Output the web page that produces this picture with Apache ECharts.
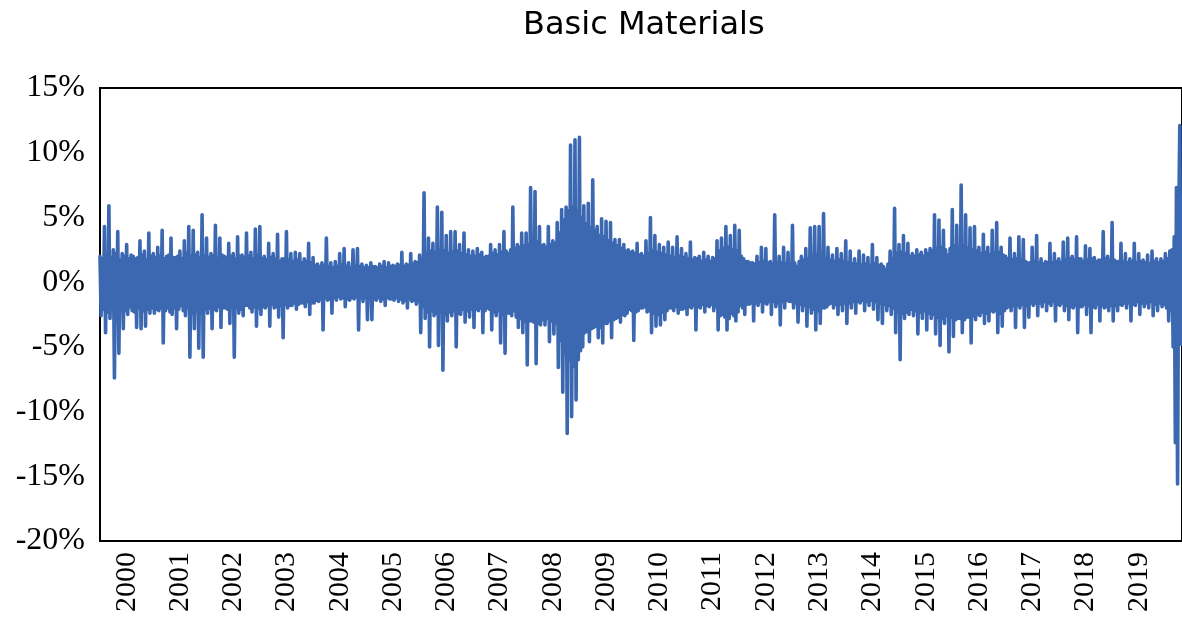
<!DOCTYPE html>
<html>
<head>
<meta charset="utf-8">
<title>Basic Materials</title>
<script src="https://cdn.jsdelivr.net/npm/echarts@6.0.0/dist/echarts.min.js"></script>
<style>
    html, body { margin: 0; padding: 0; background: #fff; }
    #chart { width: 1182px; height: 618px; }
</style>
</head>
<body>
<div id="chart"></div>
<script>
// daily returns (%): per year, groups of swing high, swing low, band top, band bottom
const r2000 = [2.0,-2.6,1.8,-2.1, 4.3,-3.9,2.1,-2.3, 5.9,-2.8,1.9,-2.0, 2.5,-7.4,2.2,-2.4, 3.9,-5.5,1.7,-2.1, 2.2,-3.6,2.0,-2.2, 2.9,-2.5,1.8,-1.9, 2.1,-2.2,2.0,-2.3, 1.8,-3.5,1.9,-2.0, 3.2,-3.6,2.1,-2.2, 2.4,-3.4,1.7,-2.1, 3.8,-2.4,2.0,-2.0];
const r2001 = [2.2,-2.4,1.9,-2.1, 2.7,-2.2,2.0,-2.0, 4.0,-4.7,1.8,-2.2, 2.0,-2.0,2.1,-2.3, 3.4,-2.5,1.9,-2.0, 1.9,-3.6,2.0,-2.1, 2.4,-1.8,1.8,-2.2, 3.2,-2.6,2.2,-2.0, 4.3,-5.8,2.0,-2.4, 4.0,-3.6,2.1,-2.2, 2.3,-5.1,1.9,-2.3, 5.2,-5.8,2.0,-2.1];
const r2002 = [3.4,-2.4,1.9,-2.0, 2.2,-3.6,2.0,-2.1, 4.4,-2.2,1.8,-1.9, 3.4,-3.5,2.1,-2.0, 2.0,-2.0,1.9,-2.1, 3.0,-3.2,2.0,-1.9, 2.2,-5.8,1.8,-2.0, 3.5,-2.4,2.0,-2.1, 2.1,-2.6,1.9,-1.8, 3.8,-1.8,2.0,-2.0, 2.3,-2.3,1.8,-1.9, 4.1,-3.4,2.0,-2.0];
const r2003 = [4.3,-2.5,1.8,-1.9, 2.0,-2.0,1.7,-1.8, 3.0,-3.4,1.9,-1.7, 2.2,-2.0,1.8,-1.9, 3.7,-2.7,1.6,-1.8, 1.8,-4.3,1.8,-1.7, 3.9,-2.0,1.7,-1.8, 2.2,-1.8,1.6,-1.6, 2.3,-2.1,1.7,-1.7, 2.2,-1.6,1.5,-1.6, 1.8,-1.9,1.6,-1.5, 3.0,-2.5,1.5,-1.6];
const r2004 = [1.9,-1.6,1.3,-1.4, 1.4,-1.5,1.2,-1.3, 1.5,-3.7,1.3,-1.2, 3.4,-1.4,1.2,-1.3, 1.5,-2.4,1.1,-1.2, 1.6,-1.4,1.2,-1.1, 2.2,-1.3,1.3,-1.2, 2.6,-1.9,1.2,-1.3, 1.5,-1.4,1.1,-1.2, 2.5,-1.3,1.2,-1.1, 2.6,-3.7,1.2,-1.2, 1.4,-1.5,1.1,-1.2];
const r2005 = [1.3,-2.9,1.1,-1.2, 1.5,-2.9,1.2,-1.3, 1.2,-1.4,1.1,-1.2, 1.4,-1.5,1.2,-1.3, 1.6,-1.8,1.1,-1.2, 1.5,-1.3,1.2,-1.3, 1.3,-1.4,1.2,-1.2, 1.4,-1.5,1.3,-1.3, 2.3,-1.6,1.2,-1.4, 1.4,-2.0,1.3,-1.3, 2.2,-1.5,1.4,-1.4, 1.6,-1.7,1.5,-1.5];
const r2006 = [2.1,-3.9,1.8,-1.9, 6.9,-2.8,2.2,-2.3, 3.4,-5.0,2.4,-2.2, 3.0,-2.6,2.3,-2.4, 5.8,-4.9,2.5,-2.3, 5.4,-6.8,2.4,-2.5, 3.6,-3.0,2.2,-2.3, 3.9,-2.6,2.3,-2.2, 3.9,-5.0,2.4,-2.4, 2.9,-2.5,2.2,-2.1, 3.8,-3.1,2.1,-2.2, 2.5,-2.7,2.0,-2.1];
const r2007 = [2.4,-3.5,2.0,-2.1, 2.6,-2.2,2.1,-2.0, 2.3,-3.9,1.9,-2.2, 2.0,-2.0,2.0,-2.1, 2.9,-3.7,2.2,-2.3, 2.5,-2.6,2.1,-2.2, 2.9,-4.7,2.3,-2.5, 3.9,-5.5,2.4,-2.4, 2.2,-2.4,2.5,-2.6, 5.8,-2.2,2.6,-2.7, 2.9,-3.5,2.7,-2.8, 3.8,-3.9,2.8,-3.0];
const r2008 = [3.8,-6.4,2.9,-3.0, 7.3,-3.0,3.0,-3.1, 7.0,-6.3,3.1,-3.2, 4.3,-3.3,2.8,-2.9, 2.9,-3.3,2.7,-2.8, 4.3,-4.6,2.9,-3.0, 3.2,-4.0,3.0,-3.2, 4.6,-6.6,3.8,-4.5, 5.6,-8.5,4.8,-5.5, 5.8,-11.7,5.5,-6.0, 10.6,-10.4,5.8,-6.5, 11.0,-9.1,5.5,-6.0];
const r2009 = [11.2,-5.3,5.0,-5.0, 5.9,-3.9,4.5,-3.8, 6.1,-4.6,4.2,-3.6, 7.9,-3.5,4.0,-3.4, 4.3,-4.3,3.6,-3.5, 4.9,-4.7,3.5,-3.2, 4.7,-3.2,3.2,-3.0, 4.6,-4.3,3.0,-2.9, 3.3,-2.8,2.8,-2.7, 3.3,-3.1,2.6,-2.5, 2.9,-2.6,2.4,-2.4, 2.5,-2.1,2.3,-2.2];
const r2010 = [2.4,-4.5,2.2,-2.3, 3.0,-2.2,2.1,-2.0, 2.2,-2.0,2.0,-1.9, 3.2,-2.3,2.2,-2.2, 5.0,-3.9,2.4,-2.4, 3.6,-3.4,2.3,-2.5, 2.9,-3.3,2.2,-2.3, 2.7,-2.9,2.1,-2.2, 3.1,-2.0,2.0,-2.0, 2.7,-2.2,1.9,-1.9, 3.5,-2.4,2.0,-2.1, 2.6,-2.1,1.9,-2.0];
const r2011 = [2.2,-2.5,1.8,-1.9, 3.1,-2.0,1.7,-1.8, 1.9,-3.7,1.8,-1.9, 2.0,-2.0,1.6,-1.7, 2.3,-2.3,1.7,-1.8, 2.0,-1.9,1.6,-1.7, 1.9,-2.2,1.8,-1.9, 3.2,-3.7,2.4,-2.6, 3.4,-2.5,2.6,-2.7, 4.3,-3.7,2.7,-2.8, 3.6,-2.4,2.5,-2.6, 4.4,-3.0,2.4,-2.3];
const r2012 = [4.0,-1.8,2.0,-2.0, 1.8,-2.5,1.6,-1.7, 1.6,-1.7,1.5,-1.6, 1.5,-3.0,1.4,-1.6, 2.0,-1.8,1.5,-1.5, 2.7,-2.3,1.6,-1.6, 2.6,-1.7,1.5,-1.5, 1.6,-2.5,1.4,-1.5, 5.2,-1.9,1.5,-1.6, 2.0,-3.3,1.5,-1.5, 2.7,-2.0,1.4,-1.4, 2.3,-1.5,1.4,-1.5];
const r2013 = [4.4,-2.0,1.5,-1.6, 1.2,-3.1,1.6,-1.7, 2.0,-2.2,1.7,-1.8, 2.6,-3.4,1.8,-1.9, 4.2,-2.4,2.0,-2.1, 4.3,-3.7,2.1,-2.2, 4.3,-3.2,2.0,-2.0, 5.3,-2.0,1.8,-1.9, 2.7,-1.7,1.7,-1.6, 2.1,-2.0,1.6,-1.7, 2.6,-2.5,1.7,-1.7, 2.2,-2.2,1.6,-1.6];
const r2014 = [3.2,-3.2,1.5,-1.6, 2.4,-2.0,1.4,-1.5, 1.8,-2.4,1.4,-1.5, 2.4,-1.6,1.3,-1.4, 2.1,-2.2,1.4,-1.5, 1.9,-1.8,1.3,-1.4, 2.9,-2.1,1.4,-1.5, 1.9,-2.9,1.3,-1.6, 1.4,-3.2,1.2,-1.7, 1.0,-2.2,1.4,-1.8, 2.4,-2.5,1.8,-2.0, 5.7,-3.9,2.2,-2.3];
const r2015 = [2.9,-6.0,2.3,-2.4, 3.6,-2.8,2.2,-2.3, 3.0,-2.5,2.0,-2.1, 2.2,-2.6,2.0,-2.2, 2.5,-4.0,2.1,-2.3, 2.3,-2.8,2.0,-2.2, 2.5,-3.7,2.2,-2.4, 2.6,-2.8,2.4,-2.5, 5.2,-4.0,2.6,-2.7, 4.8,-4.9,2.7,-2.8, 4.0,-3.2,2.5,-2.6, 2.1,-5.4,2.6,-2.7];
const r2016 = [5.6,-4.2,2.8,-2.9, 4.4,-2.8,2.7,-2.8, 7.5,-3.9,2.8,-2.9, 5.2,-2.7,2.6,-2.7, 4.2,-4.7,2.5,-2.6, 4.3,-2.9,2.4,-2.5, 2.7,-2.6,2.2,-2.3, 3.7,-3.2,2.3,-2.4, 2.7,-3.0,2.1,-2.2, 4.0,-2.3,2.2,-2.2, 4.6,-3.9,2.3,-2.4, 2.7,-3.4,2.1,-2.2];
const r2017 = [2.0,-2.0,1.8,-1.9, 3.4,-2.2,1.7,-1.8, 2.2,-3.5,1.8,-1.8, 3.5,-2.0,1.7,-1.7, 3.3,-3.5,1.6,-1.8, 1.5,-2.7,1.5,-1.6, 2.7,-1.8,1.6,-1.6, 3.6,-2.6,1.5,-1.6, 1.8,-1.9,1.4,-1.5, 1.6,-2.2,1.5,-1.6, 3.0,-1.8,1.5,-1.5, 2.2,-3.0,1.6,-1.7];
const r2018 = [1.8,-1.8,1.5,-1.6, 3.1,-2.2,1.7,-1.8, 3.4,-2.9,1.8,-1.9, 2.0,-2.0,1.7,-1.8, 3.5,-3.9,1.8,-1.9, 1.8,-1.9,1.6,-1.7, 2.8,-2.5,1.7,-1.8, 2.6,-3.9,1.8,-1.9, 1.9,-2.0,1.6,-1.7, 1.7,-3.0,1.7,-1.8, 3.9,-2.0,1.8,-1.9, 2.0,-2.2,1.7,-1.8];
const r2019 = [4.6,-3.0,1.7,-1.8, 1.6,-2.2,1.6,-1.7, 3.0,-1.8,1.6,-1.6, 2.2,-2.0,1.5,-1.6, 1.8,-3.0,1.6,-1.7, 3.0,-1.8,1.5,-1.5, 2.2,-2.5,1.6,-1.6, 1.7,-1.9,1.5,-1.6, 2.1,-2.0,1.4,-1.5, 2.4,-2.6,1.6,-1.7, 1.8,-2.2,1.5,-1.6, 1.8,-1.9,1.6,-1.7];
const r2020 = [2.2,-2.0, 1.8,-3.0, 2.4,-2.2, 2.5,-5.0, 3.5,-12.4, 7.3,-15.6, 4.0,12.1, -4.8,6.6];

const years = [2000, 2001, 2002, 2003, 2004, 2005, 2006, 2007, 2008, 2009,
               2010, 2011, 2012, 2013, 2014, 2015, 2016, 2017, 2018, 2019, 2020];
const yearData = [r2000, r2001, r2002, r2003, r2004, r2005, r2006, r2007, r2008, r2009,
                  r2010, r2011, r2012, r2013, r2014, r2015, r2016, r2017, r2018, r2019, r2020];
const tickYears = ['2000', '2001', '2002', '2003', '2004', '2005', '2006', '2007', '2008', '2009',
                   '2010', '2011', '2012', '2013', '2014', '2015', '2016', '2017', '2018', '2019'];

// build categories and values; the year label sits in the middle of its year
const categories = [];
const values = [];
const labelIdx = new Set();
years.forEach((y, k) => {
    const arr = yearData[k];
    arr.forEach((v, i) => {
        if (i === arr.length / 2 && tickYears.includes(String(y))) labelIdx.add(categories.length);
        categories.push(y + '-' + i);
        values.push(v);
    });
});

const myChart = echarts.init(document.getElementById('chart'));
const option = {
    animation: false,
    title: {
        text: 'Basic Materials',
        left: 518,
        top: 5,
        textStyle: {
            fontFamily: 'DejaVu Sans',
            fontSize: 32,
            fontWeight: 'normal',
            color: '#000'
        }
    },
    grid: {
        left: 100,
        right: -3,
        top: 88,
        bottom: 77,
        show: true,
        borderColor: '#000',
        borderWidth: 2,
        backgroundColor: 'transparent'
    },
    xAxis: {
        type: 'category',
        boundaryGap: false,
        data: categories,
        axisLine: { show: false },
        axisTick: { show: false },
        splitLine: { show: false },
        axisLabel: {
            interval: (index) => labelIdx.has(index),
            formatter: (v) => v.slice(0, 4),
            rotate: 90,
            margin: 11,
            fontFamily: 'Liberation Serif',
            fontSize: 30,
            color: '#000'
        }
    },
    yAxis: {
        type: 'value',
        min: -20,
        max: 15,
        interval: 5,
        axisLine: { show: false },
        axisTick: { show: false },
        splitLine: { show: false },
        axisLabel: {
            formatter: '{value}%',
            margin: 15,
            fontFamily: 'Liberation Serif',
            fontSize: 32,
            color: '#000'
        }
    },
    series: [
        {
            name: 'Basic Materials',
            type: 'line',
            data: values,
            showSymbol: false,
            symbol: 'none',
            lineStyle: {
                color: '#3b68b1',
                width: 3.6,
                join: 'round',
                cap: 'round'
            },
            emphasis: { disabled: true }
        }
    ]
};
myChart.setOption(option);
</script>
</body>
</html>
